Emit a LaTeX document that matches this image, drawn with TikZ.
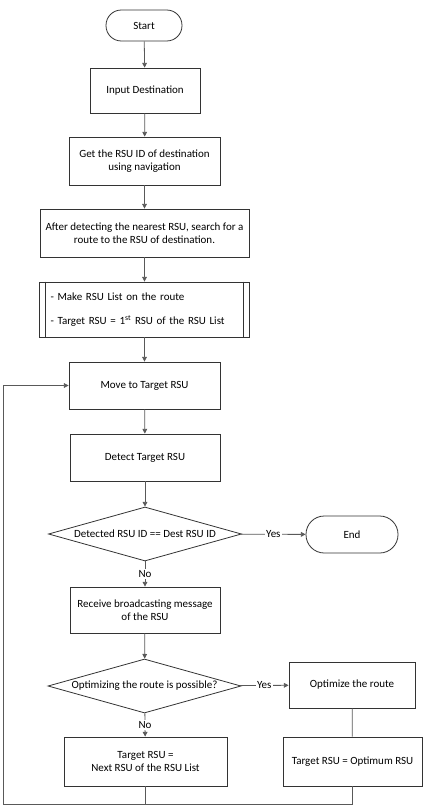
\documentclass[tikz,border=0pt]{standalone}
\usepackage{fontspec}
\setmainfont{Carlito}
\usetikzlibrary{shapes.geometric,arrows.meta}

\tikzset{
    base/.style={draw=black!80, line width=0.6pt, font=\fontsize{8.25pt}{10pt}\selectfont, inner sep=2pt, align=center},
    proc/.style 2 args={base, rectangle, minimum width=#1*0.75pt, minimum height=#2*0.75pt},
    term/.style 2 args={base, rectangle, rounded corners=#2*0.37pt, minimum width=#1*0.75pt, minimum height=#2*0.75pt},
    decide/.style={base, diamond, inner sep=0pt, minimum width=193*0.75pt, minimum height=54*0.75pt},
    conn/.style={draw=black!65, line width=0.6pt, -{Triangle[length=3.5pt,width=3.5pt]}},
    lbl/.style={fill=white, inner sep=1pt, font=\fontsize{8.25pt}{10pt}\selectfont},
}

\begin{document}
\begin{tikzpicture}[x=0.75pt, y=-0.75pt]
    \useasboundingbox (0,0) rectangle (427,806);

    \node[term={76}{31}] (start) at (144,25.5) {Start};
    \node[proc={110}{45}] (input) at (145,90.5) {Input Destination};
    \node[proc={151}{48}] (getid) at (144.5,161) {Get the RSU ID of destination\\using navigation};
    \node[proc={209}{48}] (search) at (144.5,233) {After detecting the nearest RSU, search for a\\route to the RSU of destination.};
    \node[proc={209}{55}, align=left, text width=188*0.75pt, inner xsep=8pt] (list) at (144.5,309.5)
        {- Make RSU List on the route\\[8.5pt]- Target RSU = 1\textsuperscript{st} RSU of the RSU List};
    \draw[black!80, line width=0.6pt] ([xshift=4.5pt]list.north west) -- ([xshift=4.5pt]list.south west)
        ([xshift=-4.5pt]list.north east) -- ([xshift=-4.5pt]list.south east);
    \node[proc={151}{47}] (move) at (144.5,385.5) {Move to Target RSU};
    \node[proc={150}{47}] (detect) at (145,457.5) {Detect Target RSU};
    \node[decide] (check) at (145,534) {\makebox[0pt]{Detected RSU ID == Dest RSU ID}};
    \node[term={92}{37}] (end) at (352,534.5) {End};
    \node[proc={150}{46}] (receive) at (145,610) {Receive broadcasting message\\of the RSU};
    \node[decide] (possible) at (144.5,686) {\makebox[0pt]{Optimizing the route is possible?}};
    \node[proc={126}{46}] (optimize) at (352,685) {Optimize the route};
    \node[proc={163}{49}] (next) at (145.5,761.5) {Target RSU =\\Next RSU of the RSU List};
    \node[proc={139}{49}] (optimum) at (352.5,761.5) {Target RSU = Optimum RSU};
    \coordinate (corner) at (3,804);

    % main column
    \draw[conn] (start) -- (input);
    \draw[conn] (input) -- (getid);
    \draw[conn] (getid) -- (search);
    \draw[conn] (search) -- (list);
    \draw[conn] (list) -- (move);
    \draw[conn] (move) -- (detect);
    \draw[conn] (detect) -- (check);
    \draw[conn] (check) -- node[lbl] {Yes} (end);
    \draw[conn] (check) -- node[lbl] {No} (receive);
    \draw[conn] (receive) -- (possible);
    \draw[conn] (possible) -- node[lbl] {Yes} (optimize);
    \draw[conn] (possible) -- node[lbl] {No} (next);
    \draw[conn, -] (optimize) -- (optimum);

    % back to move
    \draw[conn, -] (next.south) -- (next.south |- corner);
    \draw[conn] (optimum.south) |- (corner) |- (move.west);
\end{tikzpicture}
\end{document}
